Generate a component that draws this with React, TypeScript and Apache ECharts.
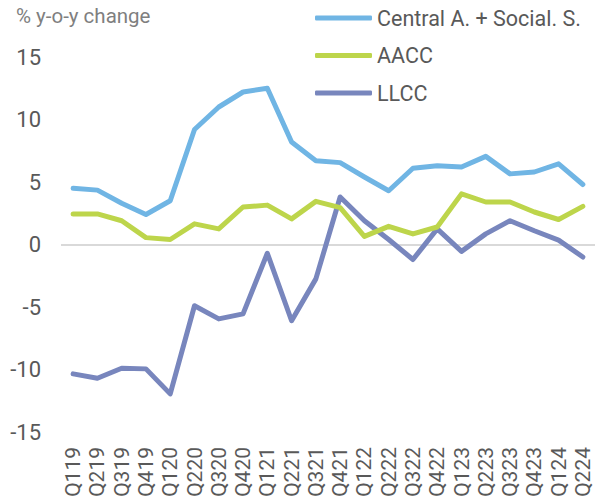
import React, { useEffect, useRef } from "react";
import * as echarts from "echarts";

const categories = [
  "Q119", "Q219", "Q319", "Q419",
  "Q120", "Q220", "Q320", "Q420",
  "Q121", "Q221", "Q321", "Q421",
  "Q122", "Q222", "Q322", "Q422",
  "Q123", "Q223", "Q323", "Q423",
  "Q124", "Q224",
];

const centralSocial = [
  4.5, 4.35, 3.3, 2.4, 3.5, 9.2, 11.0, 12.2, 12.5, 8.2, 6.7, 6.55,
  5.4, 4.3, 6.1, 6.3, 6.2, 7.05, 5.65, 5.8, 6.45, 4.8,
];

const aacc = [
  2.45, 2.45, 1.9, 0.55, 0.4, 1.65, 1.25, 3.0, 3.15, 2.05, 3.45, 2.95,
  0.65, 1.45, 0.85, 1.4, 4.05, 3.4, 3.4, 2.6, 2.0, 3.05,
];

const llcc = [
  -10.35, -10.7, -9.9, -9.95, -11.95, -4.9, -5.95, -5.55, -0.7, -6.1, -2.75, 3.8,
  1.9, 0.4, -1.2, 1.25, -0.55, 0.85, 1.9, 1.1, 0.35, -1.0,
];

const seriesNames = ["Central A. + Social. S.", "AACC", "LLCC"];
const colors = ["#70b5e4", "#bdd54b", "#7886bd"];
const yTicks = { min: -15, max: 15, interval: 5 };
const yTitle = "% y-o-y change";

export default function App() {
  const ref = useRef<HTMLDivElement>(null);
  useEffect(() => {
    if (!ref.current) return;
    document.body.style.margin = "0";
    const chart = echarts.init(ref.current, undefined, { renderer: "svg" });
    const font = "Roboto";
    const textColor = "#595959";
    const data = [centralSocial, aacc, llcc];
    chart.setOption({
      animation: false,
      textStyle: { fontFamily: font },
      graphic: [
        {
          type: "text",
          left: 16,
          top: 5,
          style: { text: yTitle, fontFamily: font, fontSize: 20.5, fill: "#7f7f7f" },
        },
      ],
      legend: {
        orient: "vertical",
        left: 310,
        top: 1,
        itemWidth: 57,
        itemHeight: 5,
        itemGap: 13.5,
        icon: "roundRect",
        textStyle: { fontFamily: font, fontSize: 21.5, color: textColor, lineHeight: 24 },
        data: seriesNames,
      },
      grid: { left: 61, top: 57, width: 537, height: 375, containLabel: false },
      xAxis: {
        type: "category",
        data: categories,
        boundaryGap: true,
        axisLine: { show: false, onZero: false },
        axisTick: { show: false },
        axisLabel: {
          rotate: 90,
          interval: 0,
          margin: 15,
          fontFamily: font,
          fontSize: 21,
          color: textColor,
        },
      },
      yAxis: {
        type: "value",
        min: yTicks.min,
        max: yTicks.max,
        interval: yTicks.interval,
        axisLine: { show: false },
        axisTick: { show: false },
        splitLine: { show: false },
        axisLabel: { margin: 20, fontFamily: font, fontSize: 22, color: textColor },
      },
      series: seriesNames.map((name, i) => ({
        name,
        type: "line",
        data: data[i],
        showSymbol: false,
        symbol: "none",
        color: colors[i],
        lineStyle: { width: 5, color: colors[i], join: "round", cap: "round" },
        z: 5 - i,
        markLine:
          i === 0
            ? {
                silent: true,
                symbol: "none",
                label: { show: false },
                lineStyle: { color: "#d9d9d9", width: 2, type: "solid" },
                data: [{ yAxis: 0 }],
                z: 1,
              }
            : undefined,
      })),
    });
    return () => chart.dispose();
  }, []);
  return <div ref={ref} style={{ width: 595, height: 502 }} />;
}
